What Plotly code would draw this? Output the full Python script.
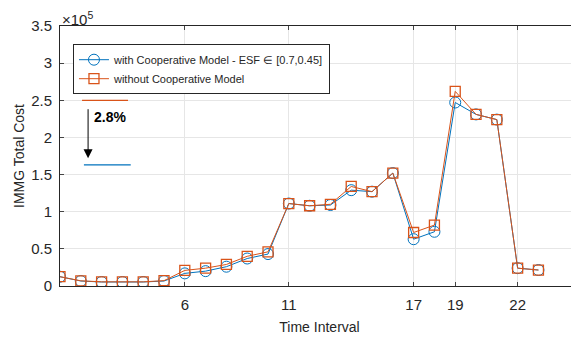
import plotly.graph_objects as go

time_interval = list(range(0, 24))
with_coop = [0.125, 0.067, 0.054, 0.054, 0.054, 0.067, 0.17, 0.20, 0.26, 0.37, 0.43,
             1.11, 1.08, 1.09, 1.29, 1.27, 1.52, 0.63, 0.73, 2.47, 2.31, 2.24, 0.24, 0.215]
without_coop = [0.125, 0.070, 0.056, 0.056, 0.056, 0.072, 0.21, 0.24, 0.29, 0.40, 0.46,
                1.11, 1.08, 1.10, 1.34, 1.27, 1.52, 0.72, 0.82, 2.62, 2.31, 2.24, 0.24, 0.215]
x_ticks = [6, 11, 17, 19, 22]
y_ticks = [0, 0.5, 1, 1.5, 2, 2.5, 3, 3.5]
y_tick_labels = ["0", "0.5", "1", "1.5", "2", "2.5", "3", "3.5"]

BLUE = "#0072BD"
ORANGE = "#D95319"
FONT = "Liberation Sans, Arial, sans-serif"

fig = go.Figure()
fig.add_trace(go.Scatter(
    x=time_interval, y=with_coop, mode="lines+markers",
    name="with Cooperative Model - ESF \u2208 [0.7,0.45]",
    line=dict(color=BLUE, width=1),
    marker=dict(symbol="circle-open", size=11, color=BLUE, line=dict(width=1))))
fig.add_trace(go.Scatter(
    x=time_interval, y=without_coop, mode="lines+markers",
    name="without Cooperative Model",
    line=dict(color=ORANGE, width=1),
    marker=dict(symbol="square-open", size=10, color=ORANGE, line=dict(width=1.3))))

# annotation lines and arrow
fig.add_shape(type="line", x0=1.06, x1=3.27, y0=2.5, y1=2.5, line=dict(color=ORANGE, width=1.3))
fig.add_shape(type="line", x0=1.15, x1=3.4, y0=1.63, y1=1.63, line=dict(color=BLUE, width=1.3))
fig.add_annotation(x=1.35, y=1.72, ax=1.35, ay=2.40, xref="x", yref="y", axref="x", ayref="y",
                   showarrow=True, arrowhead=2, arrowsize=1.8, arrowwidth=1, arrowcolor="black", text="")
fig.add_annotation(x=1.55, y=2.27, xref="x", yref="y", text="<b>2.8%</b>", showarrow=False,
                   xanchor="left", font=dict(size=14, color="black", family=FONT))
fig.add_annotation(x=0, y=1, xref="paper", yref="paper", xanchor="left", yanchor="bottom",
                   text="\u00d710<sup>5</sup>", showarrow=False, yshift=-4,
                   font=dict(size=15, color="#262626", family=FONT))
fig.add_annotation(x=0.48, y=1, xref="paper", yref="paper", yanchor="middle",
                   text="<b>(f)</b>", showarrow=False, yshift=30,
                   font=dict(size=15, color="black", family=FONT))

fig.update_layout(
    width=571, height=329,
    margin=dict(l=52, r=0, t=18, b=51),
    paper_bgcolor="white", plot_bgcolor="white",
    font=dict(family=FONT, size=14, color="#262626"),
    showlegend=True,
    legend=dict(x=0.025, y=0.93, xanchor="left", yanchor="top",
                bordercolor="#262626", borderwidth=1, bgcolor="white",
                font=dict(size=11, color="#262626", family=FONT),
                tracegroupgap=0, itemwidth=30),
)
fig.update_xaxes(
    range=[0, 24.95], tickvals=x_ticks, ticks="inside", ticklen=4, automargin=False,
    ticklabelstandoff=5,
    showline=True, linecolor="#262626", linewidth=1, mirror="ticks",
    showgrid=True, gridcolor="#E6E6E6", gridwidth=1, zeroline=False,
    title=dict(text="Time Interval", standoff=10, font=dict(size=14)),
    tickfont=dict(size=15))
fig.update_yaxes(
    range=[0, 3.5], tickvals=y_ticks, ticktext=y_tick_labels, ticks="inside", ticklen=4,
    automargin=False, ticklabelstandoff=4,
    showline=True, linecolor="#262626", linewidth=1, mirror=False,
    showgrid=True, gridcolor="#E6E6E6", gridwidth=1, zeroline=False,
    title=dict(text="IMMG Total Cost", standoff=3, font=dict(size=14)),
    tickfont=dict(size=15))

fig.write_html("out.html")
